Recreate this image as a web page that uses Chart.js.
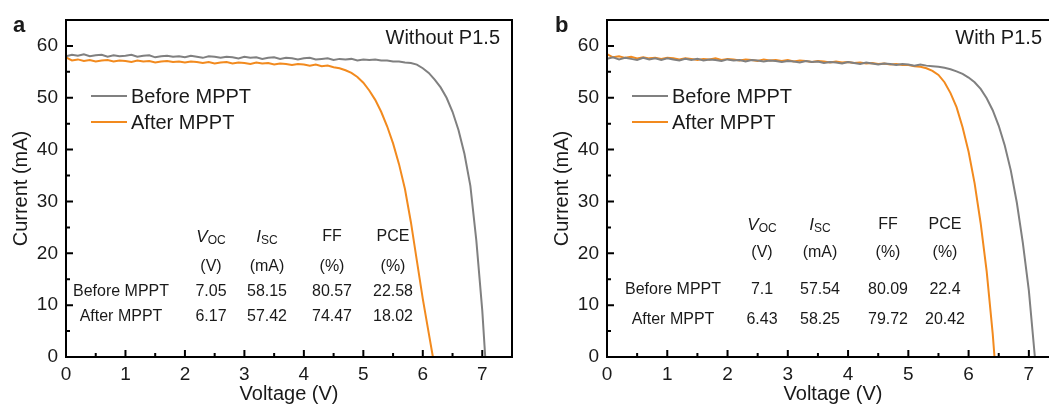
<!DOCTYPE html>
<html>
<head>
<meta charset="utf-8">
<script src="https://cdn.jsdelivr.net/npm/chart.js@4.4.1/dist/chart.umd.min.js"></script>
<style>
  html, body { margin: 0; padding: 0; background: #fff; overflow: hidden; width: 1049px; height: 406px; }
  #panelA { position: absolute; left: 0; top: 0; }
  #panelB { position: absolute; left: 541px; top: 0; }
</style>
</head>
<body>
<canvas id="panelA" width="525" height="406"></canvas>
<canvas id="panelB" width="531" height="406"></canvas>
<script>
// ---- data ----
var voltageGrid = [0.0, 0.1, 0.2, 0.3, 0.4, 0.5, 0.6, 0.7, 0.8, 0.9,
                   1.0, 1.1, 1.2, 1.3, 1.4, 1.5, 1.6, 1.7, 1.8, 1.9,
                   2.0, 2.1, 2.2, 2.3, 2.4, 2.5, 2.6, 2.7, 2.8, 2.9,
                   3.0, 3.1, 3.2, 3.3, 3.4, 3.5, 3.6, 3.7, 3.8, 3.9,
                   4.0, 4.1, 4.2, 4.3, 4.4, 4.5, 4.6, 4.7, 4.8, 4.9,
                   5.0, 5.1, 5.2, 5.3, 5.4, 5.5, 5.6, 5.7, 5.8, 5.9,
                   6.0, 6.1, 6.2, 6.3, 6.4, 6.5, 6.6, 6.7, 6.8, 6.9,
                   7.0];

var seriesNames = ['Before MPPT', 'After MPPT'];

// panel a (without P1.5), current in mA
var aBeforeI = [58.0, 58.3, 58.1, 58.4, 58.0, 58.2, 58.3, 57.9, 58.2, 58.0,
                58.1, 58.3, 57.9, 58.1, 58.2, 57.8, 58.0, 58.1, 57.9, 58.0,
                57.8, 58.1, 57.9, 57.7, 58.0, 57.9, 57.7, 57.9, 57.8, 57.6,
                57.9, 57.7, 57.8, 57.5, 57.7, 57.8, 57.5, 57.7, 57.6, 57.4,
                57.6, 57.7, 57.4, 57.5, 57.6, 57.3, 57.5, 57.4, 57.5, 57.2,
                57.4, 57.3, 57.4, 57.2, 57.2, 57.0, 57.0, 56.8, 56.7, 56.4,
                55.7, 54.8, 53.5, 52.0, 50.0, 47.3, 43.8, 39.2, 33.0, 22.5,
                9.0];
var aAfterI = [57.8, 57.2, 57.4, 57.1, 57.3, 57.0, 57.2, 57.3, 57.0, 57.2,
               57.1, 56.9, 57.2, 57.0, 57.1, 56.8, 57.0, 57.1, 56.9, 57.0,
               56.8, 57.0, 56.9, 56.7, 56.9, 56.6, 56.8, 56.9, 56.6, 56.8,
               56.7, 56.5, 56.8, 56.6, 56.7, 56.4, 56.6, 56.5, 56.3, 56.5,
               56.4, 56.2, 56.4, 56.1, 56.2, 55.9, 55.7, 55.3, 54.8, 54.0,
               52.9, 51.4, 49.6, 47.3, 44.5, 41.2, 37.2, 32.4, 26.0, 18.6,
               11.2, 4.6];

// panel b (with P1.5)
var bBeforeI = [57.5, 57.8, 57.4, 57.7, 57.5, 57.3, 57.7, 57.4, 57.6, 57.3,
                57.6, 57.4, 57.2, 57.5, 57.3, 57.5, 57.2, 57.4, 57.3, 57.1,
                57.4, 57.2, 57.3, 57.0, 57.3, 57.2, 57.0, 57.2, 57.1, 56.9,
                57.1, 57.0, 56.8, 57.1, 56.9, 57.0, 56.7, 56.9, 56.8, 56.6,
                56.9, 56.7, 56.5, 56.8, 56.6, 56.4, 56.6, 56.5, 56.3, 56.5,
                56.4, 56.2, 56.4, 56.2, 56.1, 56.0, 55.8, 55.5, 55.1, 54.6,
                53.9, 53.0, 51.7, 49.9, 47.6, 44.6, 40.8, 36.0, 29.8, 22.0,
                12.8];
var bAfterI = [58.4, 57.8, 58.0, 57.7, 57.9, 57.6, 57.8, 57.6, 57.7, 57.5,
               57.7, 57.6, 57.4, 57.6, 57.5, 57.3, 57.5, 57.4, 57.6, 57.3,
               57.5, 57.4, 57.2, 57.4, 57.3, 57.1, 57.4, 57.2, 57.3, 57.1,
               57.3, 57.0, 57.2, 57.1, 56.9, 57.1, 57.0, 56.8, 57.0, 56.8,
               56.9, 56.7, 56.8, 56.6, 56.7, 56.5, 56.6, 56.4, 56.5, 56.3,
               56.3, 56.1, 56.0, 55.7, 55.2, 54.4, 53.0, 50.9, 48.2, 44.3,
               39.6, 33.5, 25.8, 16.5, 4.5];

// table values (before, after)
var tableHead = ['V', 'I', 'FF', 'PCE'];
var tableSub = ['OC', 'SC', '', ''];
var tableUnits = ['(V)', '(mA)', '(%)', '(%)'];
var aVoc = ['7.05', '6.17'];
var aIsc = ['58.15', '57.42'];
var aFF = ['80.57', '74.47'];
var aPCE = ['22.58', '18.02'];
var bVoc = ['7.1', '6.43'];
var bIsc = ['57.54', '58.25'];
var bFF = ['80.09', '79.72'];
var bPCE = ['22.4', '20.42'];

var xTicks = [0, 1, 2, 3, 4, 5, 6, 7];
var yTicks = [0, 10, 20, 30, 40, 50, 60];

var GRAY = '#808080';
var ORANGE = '#f28a1e';
var INK = '#1a1a1a';
var FONT = '"Liberation Sans", Arial, sans-serif';

function curve(currents, voc) {
  var pts = currents.map(function(c, i) { return {x: voltageGrid[i], y: c}; });
  pts.push({x: parseFloat(voc), y: 0});
  return pts;
}

function drawHeader(ctx, x, y, main, sub) {
  if (!sub) {
    ctx.font = '16px ' + FONT;
    ctx.textAlign = 'center';
    ctx.fillText(main, x, y);
    return;
  }
  ctx.font = 'italic 17px ' + FONT;
  var w1 = ctx.measureText(main).width;
  ctx.font = '12px ' + FONT;
  var w2 = ctx.measureText(sub).width;
  var x0 = x - (w1 + w2) / 2;
  ctx.textAlign = 'left';
  ctx.font = 'italic 17px ' + FONT;
  ctx.fillText(main, x0, y);
  ctx.font = '12px ' + FONT;
  ctx.fillText(sub, x0 + w1, y + 4);
}

var decor = {
  id: 'decor',
  afterDatasetsDraw: function(chart, args, o) {
    var ctx = chart.ctx, a = chart.chartArea;
    var xs = chart.scales.x, ys = chart.scales.y;
    ctx.save();
    // frame
    ctx.strokeStyle = '#000';
    ctx.lineWidth = 2;
    ctx.strokeRect(a.left, a.top, a.right - a.left, a.bottom - a.top);
    // inward ticks
    ctx.beginPath();
    xTicks.forEach(function(v) {
      var px = xs.getPixelForValue(v);
      ctx.moveTo(px, a.bottom); ctx.lineTo(px, a.bottom - 7);
      var pm = xs.getPixelForValue(v + 0.5);
      ctx.moveTo(pm, a.bottom); ctx.lineTo(pm, a.bottom - 4);
    });
    yTicks.forEach(function(v) {
      var py = ys.getPixelForValue(v);
      ctx.moveTo(a.left, py); ctx.lineTo(a.left + 7, py);
      var pm = ys.getPixelForValue(v + 5);
      ctx.moveTo(a.left, pm); ctx.lineTo(a.left + 4, pm);
    });
    ctx.stroke();

    ctx.fillStyle = INK;
    // panel letter
    ctx.font = 'bold 22px ' + FONT;
    ctx.textAlign = 'left';
    ctx.textBaseline = 'alphabetic';
    ctx.fillText(o.letter, o.letterX, 32);
    ctx.textBaseline = 'middle';
    // condition note
    ctx.font = '20px ' + FONT;
    ctx.textAlign = 'right';
    ctx.fillText(o.note, a.right - o.noteRight, a.top + 18);

    // legend
    chart.data.datasets.forEach(function(ds, i) {
      var y = a.top + o.legendY[i];
      ctx.strokeStyle = ds.borderColor;
      ctx.lineWidth = 2;
      ctx.beginPath();
      ctx.moveTo(a.left + 25, y); ctx.lineTo(a.left + 61, y);
      ctx.stroke();
      ctx.fillStyle = INK;
      ctx.font = '20px ' + FONT;
      ctx.textAlign = 'left';
      ctx.fillText(ds.label, a.left + 65, y + 1);
    });

    // table
    var t = o.table;
    ctx.fillStyle = INK;
    tableHead.forEach(function(h, c) {
      drawHeader(ctx, a.left + t.colX[c], a.top + t.rowY[0], h, tableSub[c]);
      ctx.font = '16px ' + FONT;
      ctx.textAlign = 'center';
      ctx.fillText(tableUnits[c], a.left + t.colX[c], a.top + t.rowY[1]);
    });
    seriesNames.forEach(function(name, r) {
      var y = a.top + t.rowY[2 + r];
      ctx.font = '16px ' + FONT;
      ctx.textAlign = 'center';
      ctx.fillText(name, a.left + t.labelX, y);
      t.cols.forEach(function(col, c) {
        ctx.fillText(col[r], a.left + t.colX[c], y);
      });
    });
    ctx.restore();
  }
};

function makeChart(id, beforePts, afterPts, extra) {
  return new Chart(document.getElementById(id), {
    type: 'line',
    data: {
      datasets: [
        { label: seriesNames[0], data: beforePts, borderColor: GRAY, borderWidth: 2, pointRadius: 0, tension: 0 },
        { label: seriesNames[1], data: afterPts, borderColor: ORANGE, borderWidth: 2, pointRadius: 0, tension: 0 }
      ]
    },
    options: {
      responsive: false,
      animation: false,
      layout: { padding: { top: 20, right: 13, left: 0, bottom: 0 } },
      plugins: { legend: { display: false }, tooltip: { enabled: false }, decor: extra },
      scales: {
        x: {
          type: 'linear', min: 0, max: 7.5,
          afterBuildTicks: function(s) { s.ticks = xTicks.map(function(v) { return {value: v}; }); },
          afterFit: function(s) { s.height = 49; },
          grid: { display: false, drawTicks: false },
          border: { display: false },
          ticks: { padding: 6, color: INK, font: { family: FONT, size: 19 } },
          title: { display: true, text: 'Voltage (V)', color: INK, font: { family: FONT, size: 20 }, padding: 0 }
        },
        y: {
          type: 'linear', min: 0, max: 65,
          afterBuildTicks: function(s) { s.ticks = yTicks.map(function(v) { return {value: v}; }); },
          afterFit: function(s) { s.width = 66; },
          grid: { display: false, drawTicks: false },
          border: { display: false },
          ticks: { padding: 8, color: INK, font: { family: FONT, size: 19 } },
          title: { display: true, text: 'Current (mA)', color: INK, font: { family: FONT, size: 20 }, padding: { top: 9, bottom: 0 } }
        }
      }
    },
    plugins: [decor]
  });
}

makeChart('panelA', curve(aBeforeI, aVoc[0]), curve(aAfterI, aVoc[1]), {
  letter: 'a', letterX: 13, note: 'Without P1.5', noteRight: 12,
  legendY: [76, 102],
  table: { labelX: 55, colX: [145, 201, 266, 327], rowY: [217, 247, 272, 297], cols: [aVoc, aIsc, aFF, aPCE] }
});

makeChart('panelB', curve(bBeforeI, bVoc[0]), curve(bAfterI, bVoc[1]), {
  letter: 'b', letterX: 14, note: 'With P1.5', noteRight: 17,
  legendY: [76, 102],
  table: { labelX: 66, colX: [155, 213, 281, 338], rowY: [205, 233, 270, 300], cols: [bVoc, bIsc, bFF, bPCE] }
});
</script>
</body>
</html>
